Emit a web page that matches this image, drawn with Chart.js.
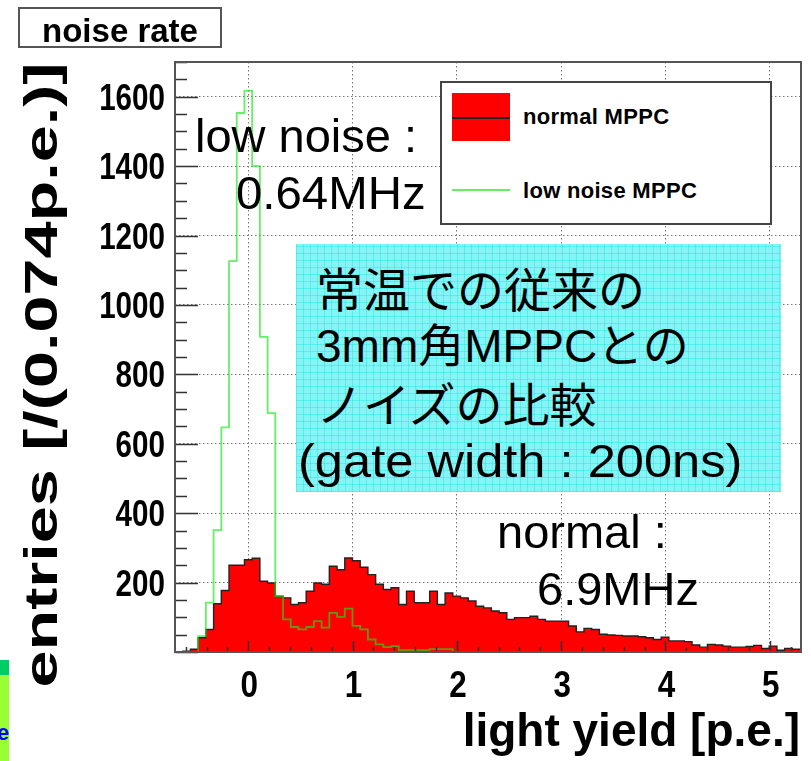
<!DOCTYPE html>
<html>
<head>
<meta charset="utf-8">
<script src="https://cdn.jsdelivr.net/npm/chart.js@4.4.1/dist/chart.umd.min.js"></script>
<style>
  html, body { margin: 0; padding: 0; background: #fff; }
  #wrap { position: relative; width: 811px; height: 761px; overflow: hidden; }
  #grafica { position: absolute; left: 0; top: 0; }
  .txt { position: absolute; white-space: nowrap; font-family: "Liberation Sans", "Noto Sans CJK JP", sans-serif; color: #000; }
  #titleBox { position: absolute; left: 18px; top: 7px; width: 204px; height: 41px; box-sizing: border-box; border: 2px solid #555; background: #fff; }
  #legendBox { position: absolute; left: 440px; top: 81px; width: 332px; height: 144px; box-sizing: border-box; border: 2px solid #444; background: #fff; }
  #cyanBox { position: absolute; left: 296px; top: 244px; width: 485px; height: 248px;
    background-color: #86f4f4;
    background-image: repeating-linear-gradient(0deg, rgba(0,225,225,0.35) 0 1px, transparent 1px 7px),
                      repeating-linear-gradient(90deg, rgba(0,225,225,0.35) 0 1px, transparent 1px 7px); }
  #sideBar { position: absolute; left: 0; top: 660px; width: 9px; height: 101px; background: #99ff33; overflow: hidden; }
</style>
</head>
<body>
<div id="wrap">
  <canvas id="grafica" width="811" height="761"></canvas>

  <div id="titleBox"></div>
  <div class="txt" style="left:18px; width:204px; text-align:center; top:14px; font-size:33px; line-height:33px; font-weight:bold;">noise rate</div>

  <div id="legendBox">
    <div style="position:absolute; left:10px; top:10px; width:58px; height:48px; background:#ff0000;"></div>
    <div style="position:absolute; left:10px; top:34px; width:58px; height:2px; background:#222;"></div>
    <div style="position:absolute; left:10px; top:106px; width:58px; height:2px; background:#66ef66;"></div>
  </div>
  <div class="txt" style="left:523px; top:106px; font-size:22px; line-height:22px; font-weight:bold; letter-spacing:0.3px;">normal MPPC</div>
  <div class="txt" style="left:523px; top:180px; font-size:22px; line-height:22px; font-weight:bold; letter-spacing:0.3px;">low noise MPPC</div>

  <div id="cyanBox"></div>
  <div class="txt" style="left:316px; top:267px; font-size:47px; line-height:47px;">常温での従来の</div>
  <div class="txt" style="left:316px; top:323px; font-size:46px; line-height:46px;">3mm角MPPCとの</div>
  <div class="txt" style="left:316px; top:382px; font-size:47px; line-height:47px;">ノイズの比較</div>
  <div class="txt" style="left:298px; top:438px; font-size:46px; line-height:46px; transform:scaleX(1.1); transform-origin:0 0;">(gate width : 200ns)</div>

  <div class="txt" style="left:195px; top:112px; font-size:47px; line-height:47px;">low noise :</div>
  <div class="txt" style="left:236px; top:170px; font-size:46px; line-height:46px; transform:scaleX(1.03); transform-origin:0 0;">0.64MHz</div>
  <div class="txt" style="left:497px; top:508px; font-size:47px; line-height:47px;">normal :</div>
  <div class="txt" style="left:537px; top:565px; font-size:47px; line-height:47px;">6.9MHz</div>

  <div id="sideBar">
    <div style="position:absolute; left:0; top:0; width:9px; height:15px; background:#00cc66;"></div>
    <div class="txt" style="left:-3px; top:62px; font-size:22px; line-height:22px; font-weight:bold; color:#0000ff;">e</div>
  </div>
</div>

<script>
// --- datos ---
const binStart = -0.703;   // borde izquierdo del primer bin
const binWidth = 0.074;    // p.e. por bin
const xTicks = [0, 1, 2, 3, 4, 5];
const yTicks = [200, 400, 600, 800, 1000, 1200, 1400, 1600];

const normalMPPC = [
  0, 2, 8, 41, 65, 139, 177, 250, 250, 266,
  270, 204, 199, 161, 156, 137, 142, 175, 199, 195,
  247, 237, 271, 263, 244, 223, 195, 180, 185, 137,
  175, 142, 142, 175, 137, 170, 161, 156, 147, 132,
  127, 118, 113, 94, 99, 99, 103, 94, 89, 89,
  89, 75, 58, 68, 65, 51, 49, 48, 46, 46,
  44, 41, 36, 43, 32, 32, 30, 20, 14, 22,
  20, 17, 14, 14, 16, 19, 10, 17, 5, 10,
  8
];

const lowNoiseMPPC = [
  0, 0, 0, 46, 142, 351, 647, 1126, 1553, 1617,
  1400, 908, 688, 161, 94, 72, 65, 72, 89, 70,
  113, 101, 125, 75, 65, 36, 22, 14, 17, 5,
  5, 5, 5, 8, 8, 8, 0, 0, 0, 0,
  0, 0, 0, 0, 0, 0, 0, 0, 0, 0,
  0, 0, 0, 0, 0, 0, 0, 0, 0, 0,
  0, 0, 0, 0, 0, 0, 0, 0, 0, 0,
  0, 0, 0, 0, 0, 0, 0, 0, 0, 0,
  0
];

const xTitle = 'light yield [p.e.]';
const yTitle = 'entries [/(0.074p.e.)]';

// histograma como línea escalonada sobre los bordes de bin
function toSteps(values) {
  const pts = [{ x: binStart, y: 0 }];
  values.forEach((v, i) => pts.push({ x: binStart + i * binWidth, y: v }));
  pts.push({ x: binStart + values.length * binWidth, y: values[values.length - 1] });
  return pts;
}

const FONT = '"Liberation Sans", Arial, sans-serif';

// texto comprimido en horizontal (la fuente del original es más estrecha)
function narrowText(ctx, text, x, y, align, sx) {
  ctx.save();
  ctx.translate(x, y);
  ctx.scale(sx, 1);
  ctx.textAlign = align;
  ctx.fillText(text, 0, 0);
  ctx.restore();
}

// marco, ticks internos estilo ROOT, etiquetas y títulos de ejes
const framePlugin = {
  id: 'frame',
  afterDraw(chart) {
    const { ctx, chartArea: a, scales: { x, y } } = chart;
    ctx.save();
    ctx.strokeStyle = '#333';
    ctx.lineWidth = 1.5;
    ctx.beginPath();
    for (let v = 0; v <= 1700; v += 50) {
      const py = Math.round(y.getPixelForValue(v)) + 0.5;
      const len = v % 200 === 0 ? 23 : 12;
      ctx.moveTo(a.left, py); ctx.lineTo(a.left + len, py);
    }
    for (let i = -3; i <= 26; i++) {
      const px = Math.round(x.getPixelForValue(i * 0.2)) + 0.5;
      const len = i % 5 === 0 ? 11 : 5;
      ctx.moveTo(px, a.bottom); ctx.lineTo(px, a.bottom - len);
    }
    ctx.stroke();

    ctx.strokeStyle = '#555';
    ctx.lineWidth = 2;
    ctx.strokeRect(a.left, a.top, a.right - a.left, a.bottom - a.top);

    // etiquetas de ticks desde las escalas
    ctx.fillStyle = '#000';
    ctx.font = 'bold 37px ' + FONT;
    ctx.textBaseline = 'alphabetic';
    y.ticks.forEach(t => narrowText(ctx, String(t.value), a.left - 10, y.getPixelForValue(t.value) + 13, 'right', 0.8));
    x.ticks.forEach(t => narrowText(ctx, String(t.value), x.getPixelForValue(t.value) + 1, 697, 'center', 0.85));

    ctx.font = 'bold 46px ' + FONT;
    ctx.textAlign = 'right';
    ctx.fillText(xTitle, 800, 746);

    ctx.translate(57, 375);
    ctx.rotate(-Math.PI / 2);
    const w = ctx.measureText(yTitle).width;
    ctx.scale(625 / w, 1);
    ctx.textAlign = 'center';
    ctx.fillText(yTitle, 0, 0);
    ctx.restore();
  }
};

const ctx = document.getElementById('grafica').getContext('2d');
new Chart(ctx, {
  type: 'line',
  data: {
    datasets: [{
      label: 'low noise MPPC',
      data: toSteps(lowNoiseMPPC),
      borderColor: 'rgba(20, 230, 20, 0.65)',
      borderWidth: 1.8,
      fill: false,
      stepped: 'before',
      pointRadius: 0,
      order: 0
    }, {
      label: 'normal MPPC',
      data: toSteps(normalMPPC),
      borderColor: '#222',
      borderWidth: 1.4,
      backgroundColor: '#ff0000',
      fill: 'origin',
      stepped: 'before',
      pointRadius: 0,
      order: 1
    }]
  },
  options: {
    responsive: false,
    animation: false,
    devicePixelRatio: 1,
    layout: { padding: { left: 0, top: 62, right: 10, bottom: 0 } },
    plugins: { legend: { display: false }, tooltip: { enabled: false } },
    scales: {
      x: {
        type: 'linear',
        min: binStart,
        max: 5.3,
        afterBuildTicks: (axis) => { axis.ticks = xTicks.map(v => ({ value: v })); },
        afterFit: (axis) => { axis.height = 109; },
        grid: { color: '#777', lineWidth: 1, drawTicks: false },
        border: { display: false, dash: [1.5, 2.5] },
        ticks: { display: false }
      },
      y: {
        type: 'linear',
        min: 0,
        max: 1700,
        afterBuildTicks: (axis) => { axis.ticks = yTicks.map(v => ({ value: v })); },
        afterFit: (axis) => { axis.width = 175; },
        grid: { color: '#777', lineWidth: 1, drawTicks: false },
        border: { display: false, dash: [1.5, 2.5] },
        ticks: { display: false }
      }
    }
  },
  plugins: [framePlugin]
});
</script>
</body>
</html>
